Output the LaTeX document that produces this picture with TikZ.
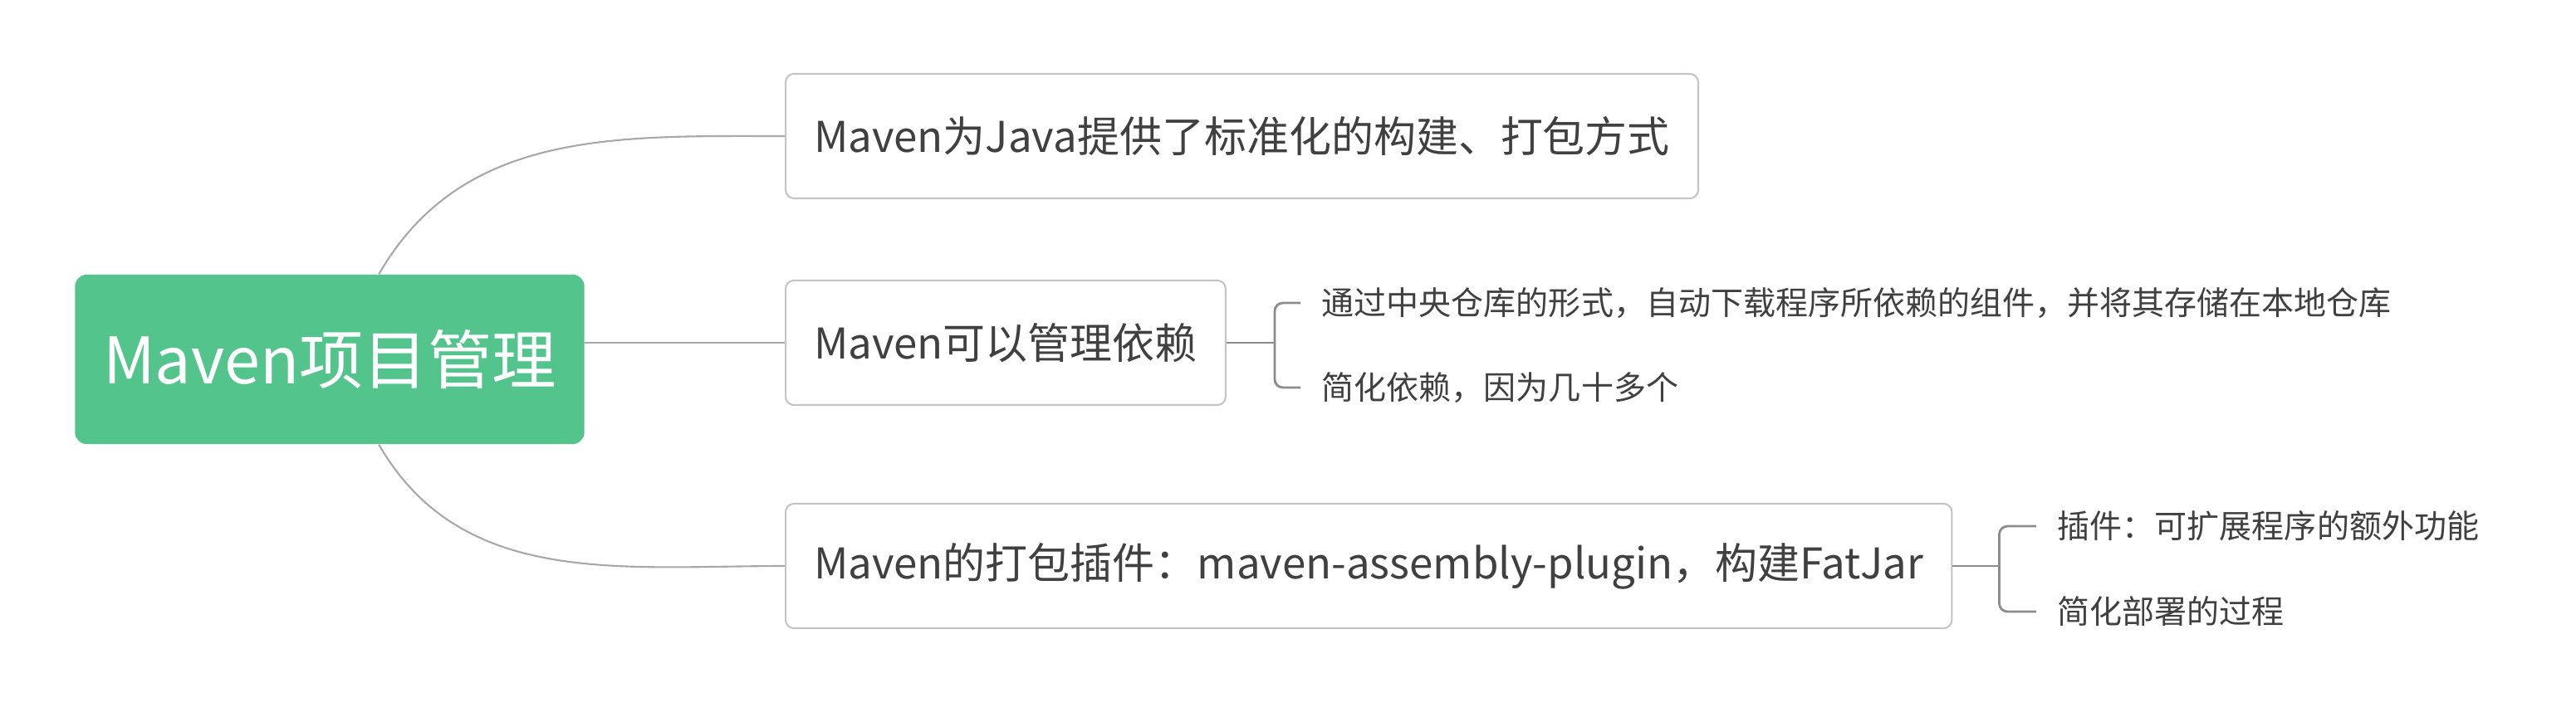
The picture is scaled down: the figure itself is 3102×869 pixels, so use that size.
\documentclass[tikz,border=0pt]{standalone}
\usepackage{fontspec}
\newfontfamily\cjk{Noto Sans CJK SC}
\definecolor{rootgreen}{RGB}{82,196,140}
\definecolor{boxgray}{RGB}{196,196,196}
\definecolor{linkgray}{RGB}{168,168,168}
\definecolor{forkgray}{RGB}{140,140,140}
\definecolor{textgray}{RGB}{64,64,64}

\begin{document}
\begin{tikzpicture}[x=0.01cm,y=0.01cm,
	root/.style={rectangle,rounded corners=0.14cm,fill=rootgreen,text=white,
		font=\cjk\fontsize{22}{26}\selectfont,minimum width=6.13cm,minimum height=2.04cm},
	topic/.style={rectangle,rounded corners=0.1cm,draw=boxgray,line width=0.6pt,
		text=textgray,font=\cjk\fontsize{14.5}{18}\selectfont,inner xsep=0.34cm,
		minimum height=1.5cm,anchor=west},
	leaf/.style={text=textgray,font=\cjk\fontsize{11.1}{14}\selectfont,
		inner xsep=0.25cm,inner ysep=0pt,anchor=west},
	link/.style={draw=linkgray,line width=0.6pt},
	fork/.style={draw=forkgray,line width=0.8pt,rounded corners=0.1cm}]
\useasboundingbox (0,0) rectangle (3102,869);
\node[root]	(root)	at (397,436)	{Maven项目管理};
\node[topic]	(java)	at (945,705)	{Maven为Java提供了标准化的构建、打包方式};
\node[topic]	(dep)	at (945,456)	{Maven可以管理依赖};
\node[topic]	(pack)	at (945,187)	{Maven的打包插件：maven-assembly-plugin，构建FatJar};
\node[leaf]	(repo)	at (1566,504)	{通过中央仓库的形式，自动下载程序所依赖的组件，并将其存储在本地仓库};
\node[leaf]	(simp)	at (1566,402)	{简化依赖，因为几十多个};
\node[leaf]	(plug)	at (2452,235)	{插件：可扩展程序的额外功能};
\node[leaf]	(depl)	at (2452,132)	{简化部署的过程};
\path[link]	(root)	edge [out=60,in=180]	(java)
		(root.east |- dep)	edge	(dep)
		(root)	edge [out=-60,in=180]	(pack);
\draw[fork]	(dep.east) -- ++(58,0) coordinate (fdep);
\draw[fork]	(fdep) |- (repo);
\draw[fork]	(fdep) |- (simp);
\draw[fork]	(pack.east) -- ++(56,0) coordinate (fpack);
\draw[fork]	(fpack) |- (plug);
\draw[fork]	(fpack) |- (depl);
\end{tikzpicture}
\end{document}
